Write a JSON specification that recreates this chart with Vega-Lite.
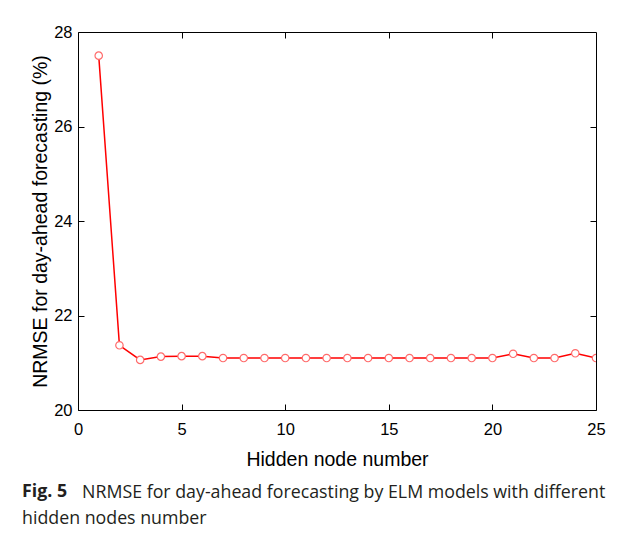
{
  "$schema": "https://vega.github.io/schema/vega-lite/v6.json",
  "width": 518,
  "height": 378,
  "autosize": "none",
  "padding": {"left": 78, "top": 32, "right": 28, "bottom": 127},
  "background": "white",
  "config": {
    "view": {"stroke": "#000", "strokeWidth": 1},
    "axis": {"domain": false, "grid": false, "labelFont": "Liberation Sans", "labelFontSize": 16.5, "labelColor": "#000", "titleFont": "Liberation Sans", "titleFontSize": 19.5, "titleFontWeight": "normal", "titleColor": "#000", "tickColor": "#000", "tickSize": -6, "tickWidth": 1}
  },
  "title": {
    "text": "Fig. 5",
    "subtitle": ["\u200b\u00a0\u00a0\u00a0\u00a0\u00a0\u00a0\u00a0\u00a0\u00a0\u00a0\u00a0\u00a0\u00a0NRMSE for day-ahead forecasting by ELM models with different", "hidden nodes number"],
    "orient": "bottom",
    "anchor": "start",
    "frame": "group",
    "dx": -56,
    "offset": 14,
    "font": "Open Sans",
    "fontSize": 17.8,
    "fontWeight": "bold",
    "color": "#231f20",
    "subtitleFont": "Open Sans",
    "subtitleFontSize": 17.8,
    "subtitleColor": "#231f20",
    "subtitleLineHeight": 26,
    "subtitlePadding": -16.8
  },
  "data": {"values": [
    {"n": 1, "nrmse": 27.5},
    {"n": 2, "nrmse": 21.37},
    {"n": 3, "nrmse": 21.06},
    {"n": 4, "nrmse": 21.13},
    {"n": 5, "nrmse": 21.14},
    {"n": 6, "nrmse": 21.14},
    {"n": 7, "nrmse": 21.1},
    {"n": 8, "nrmse": 21.1},
    {"n": 9, "nrmse": 21.1},
    {"n": 10, "nrmse": 21.1},
    {"n": 11, "nrmse": 21.1},
    {"n": 12, "nrmse": 21.1},
    {"n": 13, "nrmse": 21.1},
    {"n": 14, "nrmse": 21.1},
    {"n": 15, "nrmse": 21.1},
    {"n": 16, "nrmse": 21.1},
    {"n": 17, "nrmse": 21.1},
    {"n": 18, "nrmse": 21.1},
    {"n": 19, "nrmse": 21.1},
    {"n": 20, "nrmse": 21.1},
    {"n": 21, "nrmse": 21.19},
    {"n": 22, "nrmse": 21.1},
    {"n": 23, "nrmse": 21.1},
    {"n": 24, "nrmse": 21.2},
    {"n": 25, "nrmse": 21.1}
  ]},
  "layer": [
    {
      "mark": {"type": "line", "color": "#ff0000", "strokeWidth": 1.5, "clip": true},
      "encoding": {
        "x": {"field": "n", "type": "quantitative", "scale": {"domain": [0, 25], "nice": false}, "axis": {"orient": "bottom", "values": [0, 5, 10, 15, 20, 25], "title": "Hidden node number", "labelPadding": 17, "titlePadding": 13, "labelFlush": false}},
        "y": {"field": "nrmse", "type": "quantitative", "scale": {"domain": [20, 28], "nice": false, "zero": false}, "axis": {"orient": "left", "values": [20, 22, 24, 26, 28], "title": "NRMSE for day-ahead forecasting (%)", "labelPadding": 12, "titlePadding": 3, "labelFlush": false}}
      }
    },
    {
      "mark": {"type": "point", "shape": "circle", "filled": true, "fill": "white", "stroke": "#ff6b6b", "strokeWidth": 1.2, "size": 55, "opacity": 1, "clip": true},
      "encoding": {
        "x": {"field": "n", "type": "quantitative", "axis": {"orient": "top", "values": [5, 10, 15, 20], "labels": false, "title": null}},
        "y": {"field": "nrmse", "type": "quantitative", "axis": {"orient": "right", "values": [22, 24, 26], "labels": false, "title": null}}
      }
    }
  ],
  "resolve": {"axis": {"x": "independent", "y": "independent"}}
}
